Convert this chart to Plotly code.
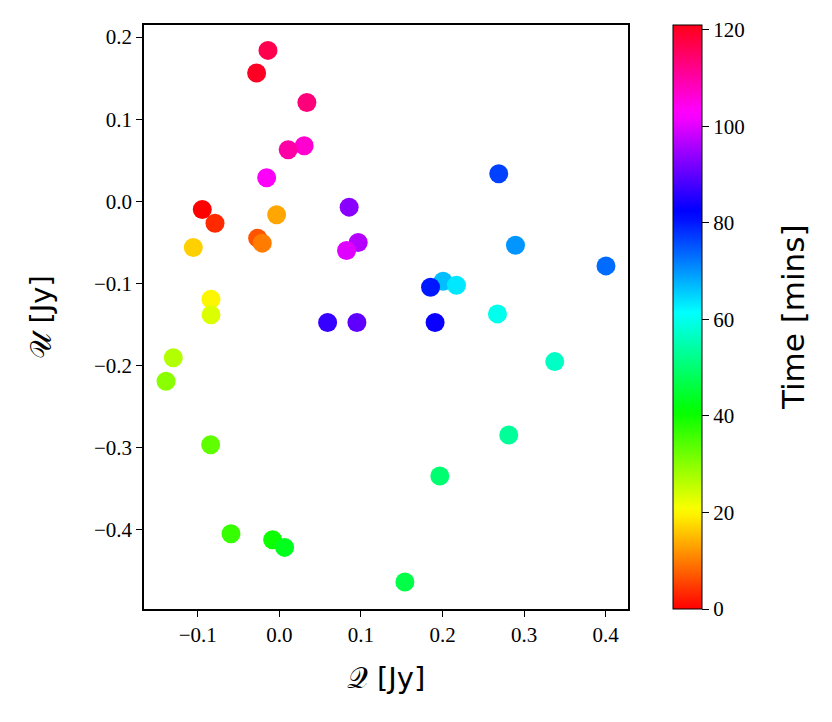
import plotly.graph_objects as go

# Stokes Q, U [Jy] and time [mins]
Q = [-0.0944, -0.0788, -0.0265, -0.0209, -0.0033, -0.1054, -0.0837, -0.0837,
     -0.1299, -0.1388, -0.0841, -0.0592, -0.0082, 0.0065, 0.1539, 0.1967,
     0.2812, 0.3375, 0.2673, 0.2007, 0.2171, 0.2894, 0.4003, 0.2689,
     0.1853, 0.1909, 0.0592, 0.0951, 0.0856, 0.0967, 0.0824, -0.0155,
     0.0305, 0.0109, 0.0338, -0.0139, -0.0278]
U = [-0.0100, -0.0266, -0.0448, -0.0509, -0.0164, -0.0563, -0.1191, -0.1382,
     -0.1903, -0.2190, -0.2962, -0.4046, -0.4119, -0.4212, -0.4634, -0.3343,
     -0.2844, -0.1951, -0.1370, -0.0972, -0.1021, -0.0534, -0.0786, 0.0335,
     -0.1045, -0.1476, -0.1476, -0.1476, -0.0071, -0.0502, -0.0599, 0.0286,
     0.0676, 0.0627, 0.1203, 0.1837, 0.1561]
TIME = [0.0, 3.3, 6.7, 10.0, 13.3, 16.7, 20.0, 23.3,
        26.7, 30.0, 33.3, 36.7, 40.0, 43.3, 46.7, 50.0,
        53.3, 56.7, 60.0, 66.7, 63.3, 70.0, 73.3, 76.7,
        80.0, 83.3, 86.7, 90.0, 93.3, 96.7, 100.0, 103.3,
        106.7, 110.0, 113.3, 116.7, 120.0]

X_TICKS = [-0.1, 0.0, 0.1, 0.2, 0.3, 0.4]
Y_TICKS = [0.2, 0.1, 0.0, -0.1, -0.2, -0.3, -0.4]
C_TICKS = [0, 20, 40, 60, 80, 100, 120]

# matplotlib 'hsv' colormap segment data
_r = [(0.0, 1.0), (0.158730, 1.0), (0.174603, 0.96875), (0.333333, 0.03125),
      (0.349206, 0.0), (0.666667, 0.0), (0.682540, 0.0), (0.841270, 0.96875),
      (0.857143, 1.0), (1.0, 1.0)]
_g = [(0.0, 0.0), (0.158730, 0.9375), (0.174603, 1.0), (0.507937, 1.0),
      (0.666667, 0.0625), (0.682540, 0.0), (1.0, 0.0)]
_b = [(0.0, 0.0), (0.333333, 0.0), (0.349206, 0.0625), (0.507937, 1.0),
      (0.841270, 1.0), (0.857143, 0.96875), (1.0, 0.09375)]


def _interp(seg, x):
    for (x0, y0), (x1, y1) in zip(seg[:-1], seg[1:]):
        if x0 <= x <= x1:
            return y0 if x1 == x0 else y0 + (y1 - y0) * (x - x0) / (x1 - x0)
    return seg[-1][1]


_stops = sorted(set([p[0] for p in _r + _g + _b]))
HSV = [[s, "rgb(%d,%d,%d)" % (round(255 * _interp(_r, s)),
                              round(255 * _interp(_g, s)),
                              round(255 * _interp(_b, s)))] for s in _stops]

serif = "'Liberation Serif', 'DejaVu Serif', serif"
sans = "'DejaVu Sans', sans-serif"

fig = go.Figure(go.Scatter(
    x=Q, y=U, mode="markers",
    marker=dict(size=19, color=TIME, colorscale=HSV, cmin=0, cmax=121,
                line=dict(width=0), opacity=1,
                colorbar=dict(
                    x=1.093, xanchor="left", xref="paper", xpad=0, ypad=0,
                    y=0.5, yanchor="middle", len=1.0, lenmode="fraction",
                    thickness=29, outlinewidth=1, outlinecolor="black",
                    tickvals=C_TICKS, ticks="outside", ticklen=7,
                    tickwidth=1, tickcolor="black", tickprefix="\u2002",
                    tickfont=dict(family=serif, size=21, color="black"),
                )),
    showlegend=False, hoverinfo="skip",
))

fig.add_annotation(
    text="Time [mins]", x=1.341, y=0.5, xref="paper", yref="paper",
    xanchor="center", yanchor="middle", textangle=-90, showarrow=False,
    font=dict(family=sans, size=31, color="black"),
)

fig.update_layout(
    width=832, height=722,
    margin=dict(l=136, r=212, t=17, b=121),
    plot_bgcolor="white", paper_bgcolor="white",
    xaxis=dict(range=[-0.1658, 0.4273], tickvals=X_TICKS, tickformat=".1f",
               showgrid=False, zeroline=False, showline=True, mirror=True,
               linecolor="black", linewidth=1.5, ticks="outside", ticklen=6,
               tickwidth=1.2, tickcolor="black",
               tickfont=dict(family=serif, size=21, color="black"),
               title=dict(text="𝒬 [Jy]", standoff=22,
                          font=dict(family=sans, size=29, color="black"))),
    yaxis=dict(range=[-0.4962, 0.2146], tickvals=Y_TICKS, tickformat=".1f",
               showgrid=False, zeroline=False, showline=True, mirror=True,
               linecolor="black", linewidth=1.5, ticks="outside", ticklen=6,
               tickwidth=1.2, tickcolor="black",
               tickfont=dict(family=serif, size=21, color="black"),
               title=dict(text="𝒰 [Jy]", standoff=34,
                          font=dict(family=sans, size=29, color="black"))),
)

fig.write_html("out.html")
